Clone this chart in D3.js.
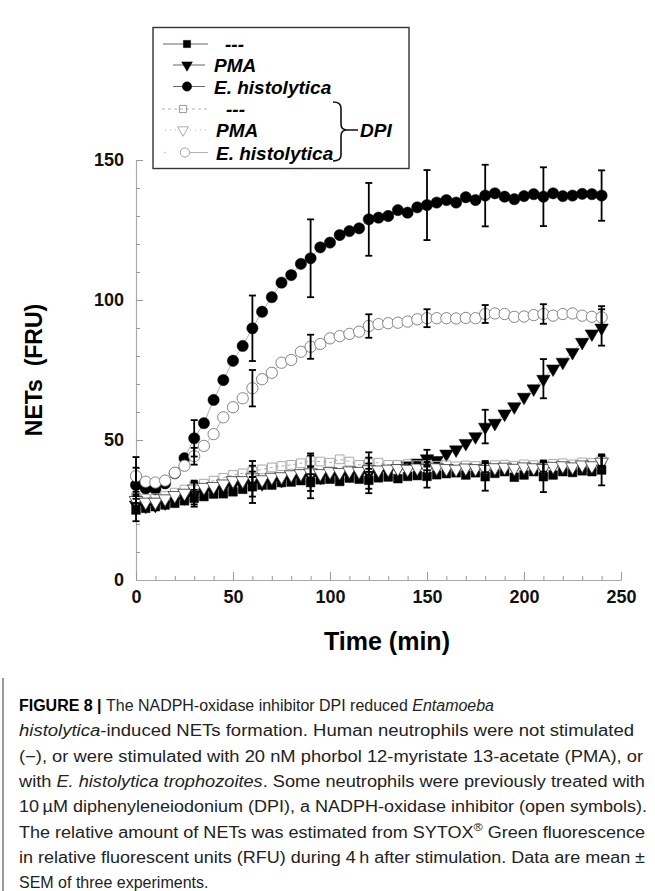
<!DOCTYPE html>
<html>
<head>
<meta charset="utf-8">
<script src="https://cdn.jsdelivr.net/npm/d3@7"></script>
<style>
  body { margin: 0; background: #fff; }
  svg { display: block; }
</style>
</head>
<body>
<div class="chart"></div>
<script>
// time points (min)
const times = [0, 5, 10, 15, 20, 25, 30, 35, 40, 45, 50, 55, 60, 65, 70, 75, 80, 85, 90, 95,
  100, 105, 110, 115, 120, 125, 130, 135, 140, 145, 150, 155, 160, 165, 170, 175, 180, 185,
  190, 195, 200, 205, 210, 215, 220, 225, 230, 235, 240];

// NETs (FRU)
const ctrl = [25.0, 25.6, 26.2, 26.8, 27.4, 28.3, 29.2, 29.8, 30.7, 30.8, 31.5, 32.4, 33.3, 33.9,
  33.9, 34.8, 35.0, 35.5, 34.8, 35.8, 36.0, 35.2, 36.4, 36.0, 35.6, 36.5, 36.8, 36.2, 37.0, 37.3,
  37.0, 37.6, 38.0, 38.3, 37.5, 38.3, 36.9, 38.1, 38.7, 36.7, 37.5, 38.7, 36.9, 37.5, 38.7, 38.4,
  39.0, 38.7, 39.3];
const pma = [27.0, 26.6, 26.9, 27.8, 28.9, 29.6, 31.0, 31.8, 32.2, 33.0, 34.0, 34.3, 35.0, 34.6,
  35.4, 35.8, 36.5, 36.9, 37.2, 37.0, 37.6, 37.3, 37.8, 38.0, 38.3, 38.6, 39.0, 40.0, 41.0, 42.0,
  43.5, 42.9, 45.2, 46.7, 49.0, 51.4, 54.8, 56.2, 59.5, 62.1, 65.5, 68.5, 71.9, 75.6, 78.0, 81.5,
  85.1, 88.1, 90.2];
const eh = [33.9, 32.7, 32.4, 34.5, 38.1, 43.5, 50.6, 56.0, 64.3, 71.4, 78.3, 83.6, 89.9, 95.8,
  101.0, 106.2, 108.9, 112.9, 114.9, 118.8, 120.5, 123.2, 124.6, 125.6, 128.8, 129.4, 130.0, 132.1,
  131.2, 133.1, 133.9, 134.8, 135.7, 134.8, 136.7, 135.7, 137.3, 138.1, 136.9, 136.0, 137.1, 137.8,
  136.9, 138.1, 137.1, 137.3, 137.9, 137.8, 137.3];
const ctrlDpi = [29.5, 29.0, 29.2, 30.0, 31.2, 32.3, 33.5, 34.4, 35.5, 36.5, 37.5, 38.1, 38.8, 39.5,
  40.2, 40.7, 41.1, 41.7, 42.5, 42.3, 41.9, 43.1, 42.3, 41.1, 41.7, 41.9, 41.1, 41.1, 41.4, 41.0,
  41.2, 40.8, 41.0, 40.6, 40.9, 40.7, 40.5, 41.0, 41.2, 40.8, 41.3, 41.0, 40.7, 41.5, 41.7, 41.3,
  42.0, 41.8, 42.8];
const pmaDpi = [28.6, 28.0, 28.0, 29.2, 30.4, 31.2, 32.7, 33.3, 33.6, 34.5, 35.7, 35.7, 36.7, 36.0,
  36.9, 37.1, 37.8, 38.2, 38.5, 38.2, 38.9, 38.6, 39.2, 39.0, 39.6, 39.5, 39.8, 40.0, 39.8, 40.2,
  40.0, 40.3, 40.0, 39.8, 40.2, 40.0, 39.7, 40.3, 40.5, 40.1, 40.6, 40.3, 40.0, 40.8, 41.0, 40.6,
  41.3, 41.0, 42.3];
const ehDpi = [37.1, 35.1, 34.8, 35.5, 38.3, 40.8, 44.2, 47.9, 52.1, 58.1, 61.7, 64.9, 68.5, 71.7,
  74.0, 77.6, 78.6, 81.5, 83.3, 84.3, 86.3, 87.1, 87.9, 88.7, 90.7, 91.4, 91.7, 91.9, 92.3, 93.1,
  93.5, 93.5, 93.5, 93.4, 93.6, 93.5, 95.0, 95.2, 95.0, 94.0, 94.1, 94.6, 95.0, 94.4, 95.0, 95.2,
  94.4, 94.0, 93.8];

// SEM, at every sixth time point (0, 30, 60 ... 240)
const errTimes = [0, 30, 60, 90, 120, 150, 180, 210, 240];
const ctrlErr = [4, 3, 3.5, 3, 3, 4, 5, 5.5, 5.5];
const pmaErr = [3, 4, 7.5, 8, 7.3, 3, 6, 7, 6.5];
const ehErr = [10, 6.5, 11.7, 13.9, 13, 12.5, 11, 10.5, 9];
const ctrlDpiErr = [2, 2, 2, 2, 2, 2, 2, 2, 2];
const pmaDpiErr = [2, 2, 2, 2, 2, 2, 2, 2, 2];
const ehDpiErr = [3, 3, 6.5, 4.3, 4.2, 3.2, 3.2, 3.5, 4];

const xTicks = [0, 50, 100, 150, 200, 250];
const yTicks = [0, 50, 100, 150];
const legendLabels = ["---", "PMA", "E. histolytica", "---", "PMA", "E. histolytica"];

const W = 655, H = 891;
const font = "'Liberation Sans', Arial, sans-serif";

const svg = d3.select(".chart").append("svg")
  .attr("width", W).attr("height", H)
  .style("font-family", font);

const x = d3.scaleLinear().domain([0, 250]).range([136, 621]);
const y = d3.scaleLinear().domain([0, 150]).range([580, 160]);

// axes (ticks point inward)
const yAxis = svg.append("g").attr("transform", "translate(136,0)")
  .call(d3.axisLeft(y).tickValues(yTicks).tickSizeInner(-7).tickSizeOuter(0).tickPadding(12));
const yMinor = svg.append("g").attr("transform", "translate(136,0)")
  .call(d3.axisLeft(y).tickValues(d3.range(10, 150, 10).filter(v => v % 50)).tickSize(-4).tickFormat(""));
const xAxis = svg.append("g").attr("transform", "translate(0,580)")
  .call(d3.axisBottom(x).tickValues(xTicks).tickSizeInner(-8).tickSizeOuter(0).tickPadding(10));
const xMinor = svg.append("g").attr("transform", "translate(0,580)")
  .call(d3.axisBottom(x).tickValues(d3.range(10, 250, 10).filter(v => v % 50)).tickSize(-4).tickFormat(""));

[yAxis, yMinor, xAxis, xMinor].forEach(g => {
  g.select(".domain").attr("stroke", "#aaa").attr("stroke-width", 1.2);
  g.selectAll(".tick line").attr("stroke", "#999");
  g.selectAll("text").style("font-family", font).style("font-size", "18px")
    .style("font-weight", "bold").attr("fill", "#111");
});
yMinor.select(".domain").remove();
xMinor.select(".domain").remove();

svg.append("text").attr("x", 387).attr("y", 650).attr("text-anchor", "middle")
  .style("font-size", "25px").style("font-weight", "bold").text("Time (min)");
svg.append("text").attr("transform", "translate(42,370) rotate(-90)").attr("text-anchor", "middle")
  .style("font-size", "23px").style("font-weight", "bold").attr("xml:space", "preserve")
  .text("NETs  (FRU)");

// series definitions
const series = [
  { vals: eh, err: ehErr, shape: d3.symbolCircle, size: 100, leg: 68, fill: "#000", stroke: "#000", sw: 0.5, dash: null },
  { vals: pma, err: pmaErr, shape: d3.symbolTriangle, size: 78, leg: 50, fill: "#000", stroke: "#000", sw: 0.5, dash: null, down: true },
  { vals: ctrl, err: ctrlErr, shape: d3.symbolSquare, size: 76, leg: 52, fill: "#000", stroke: "#000", sw: 0.5, dash: null },
  { vals: ctrlDpi, err: ctrlDpiErr, shape: d3.symbolSquare, size: 76, leg: 52, fill: "none", stroke: "#aaa", sw: 1, dash: "3,3" },
  { vals: ehDpi, err: ehDpiErr, shape: d3.symbolCircle, size: 100, leg: 68, fill: "#fff", stroke: "#777", sw: 0.9, dash: null },
  { vals: pmaDpi, err: pmaDpiErr, shape: d3.symbolTriangle, size: 80, leg: 52, fill: "#fff", stroke: "#333", sw: 0.8, dash: "1,3", down: true }
];

const line = d3.line().x((d, i) => x(times[i])).y(d => y(d));

series.forEach(s => {
  svg.append("path").datum(s.vals).attr("d", line)
    .attr("fill", "none").attr("stroke", "#999").attr("stroke-width", 0.8)
    .attr("stroke-dasharray", s.dash);
  svg.append("g").selectAll("path").data(s.vals).join("path")
    .attr("d", d3.symbol().type(s.shape).size(s.size))
    .attr("transform", (d, i) => `translate(${x(times[i])},${y(d) + (s.down ? 0.5 : 0)})${s.down ? " rotate(180)" : ""}`)
    .attr("fill", s.fill).attr("stroke", s.stroke).attr("stroke-width", s.sw);
});

// error bars on top
series.forEach(s => {
  const g = svg.append("g").attr("stroke", "#000").attr("stroke-width", 1.8);
  errTimes.forEach((t, j) => {
    const v = s.vals[times.indexOf(t)], e = s.err[j];
    const cx = x(t);
    g.append("line").attr("x1", cx).attr("x2", cx).attr("y1", y(v - e)).attr("y2", y(v + e));
    g.append("line").attr("x1", cx - 3.5).attr("x2", cx + 3.5).attr("y1", y(v + e)).attr("y2", y(v + e));
    g.append("line").attr("x1", cx - 3.5).attr("x2", cx + 3.5).attr("y1", y(v - e)).attr("y2", y(v - e));
  });
});

// legend
const legend = svg.append("g");
legend.append("rect").attr("x", 153).attr("y", 27.5).attr("width", 256).attr("height", 141)
  .attr("fill", "#fff").attr("stroke", "#333").attr("stroke-width", 1.4);
const rowY = [44, 65, 86.5, 109, 130, 152.5];
const legSeries = [series[2], series[1], series[0], series[3], series[5], series[4]];
const lineSpans = [[163, 208], [173, 205], [173, 205], [162, 208], [165, 210], [190, 208]];
const symX = [187, 187, 187, 183, 183, 185];
const textX = [225, 214, 214, 226, 216, 216];
legSeries.forEach((s, i) => {
  legend.append("line").attr("x1", lineSpans[i][0]).attr("x2", lineSpans[i][1])
    .attr("y1", rowY[i]).attr("y2", rowY[i])
    .attr("stroke", i < 3 ? "#555" : "#aaa").attr("stroke-width", 0.9)
    .attr("stroke-dasharray", i === 3 ? "3,3" : i === 4 ? "1,4" : null);
  if (i === 5) legend.append("circle").attr("cx", 165).attr("cy", rowY[i]).attr("r", 0.7).attr("fill", "#aaa");
  legend.append("path")
    .attr("d", d3.symbol().type(s.shape).size(s.leg))
    .attr("transform", `translate(${symX[i]},${rowY[i]})${s.down ? " rotate(180)" : ""}`)
    .attr("fill", s.fill).attr("stroke", i < 3 ? s.stroke : "#999").attr("stroke-width", s.sw);
  legend.append("text").attr("x", textX[i]).attr("y", rowY[i] + 7)
    .style("font-size", "19px").style("font-weight", "bold").style("font-style", "italic")
    .text(legendLabels[i]);
});
// brace for DPI group
legend.append("path")
  .attr("d", "M333,102 Q341,102 341,108 L341,124 Q341,130 347,130 Q341,130 341,136 L341,155 Q341,161 333,161 M347,130 L358,130")
  .attr("fill", "none").attr("stroke", "#111").attr("stroke-width", 1.6);
legend.append("text").attr("x", 360).attr("y", 137)
  .style("font-size", "19px").style("font-weight", "bold").style("font-style", "italic").text("DPI");

// caption
svg.append("line").attr("x1", 3).attr("x2", 3).attr("y1", 678).attr("y2", H)
  .attr("stroke", "#999").attr("stroke-width", 2);
const cap = svg.append("g").style("font-size", "16px").attr("fill", "#222");
const capLines = [
  [["FIGURE 8 | ", "b"], ["The NADPH-oxidase inhibitor DPI reduced ", ""], ["Entamoeba", "i"]],
  [["histolytica", "i"], ["-induced NETs formation. Human neutrophils were not stimulated", ""]],
  [["(\u2212), or were stimulated with 20 nM phorbol 12-myristate 13-acetate (PMA), or", ""]],
  [["with ", ""], ["E. histolytica trophozoites", "i"], [". Some neutrophils were previously treated with", ""]],
  [["10\u2009\u00b5M diphenyleneiodonium (DPI), a NADPH-oxidase inhibitor (open symbols).", ""]],
  [["The relative amount of NETs was estimated from SYTOX", ""], ["\u00ae", "sup"], [" Green fluorescence", ""]],
  [["in relative fluorescent units (RFU) during 4\u2009h after stimulation. Data are mean \u00b1", ""]],
  [["SEM of three experiments.", ""]]
];
const capEnds = [494, 634, 643, 645, 647, 645, 645, null];
capLines.forEach((parts, i) => {
  const t = cap.append("text").attr("x", 19).attr("y", 711 + i * 25.3);
  parts.forEach(([txt, st]) => {
    const ts = t.append("tspan").text(txt);
    if (st === "b") ts.style("font-weight", "bold").attr("fill", "#000");
    if (st === "i") ts.style("font-style", "italic");
    if (st === "sup") ts.attr("dy", -7).style("font-size", "11px");
    if (st === "" && parts.some(p => p[1] === "sup") && txt.startsWith(" ")) ts.attr("dy", 7);
  });
  if (capEnds[i]) t.attr("textLength", capEnds[i] - 19).attr("lengthAdjust", "spacingAndGlyphs");
});
</script>
</body>
</html>
